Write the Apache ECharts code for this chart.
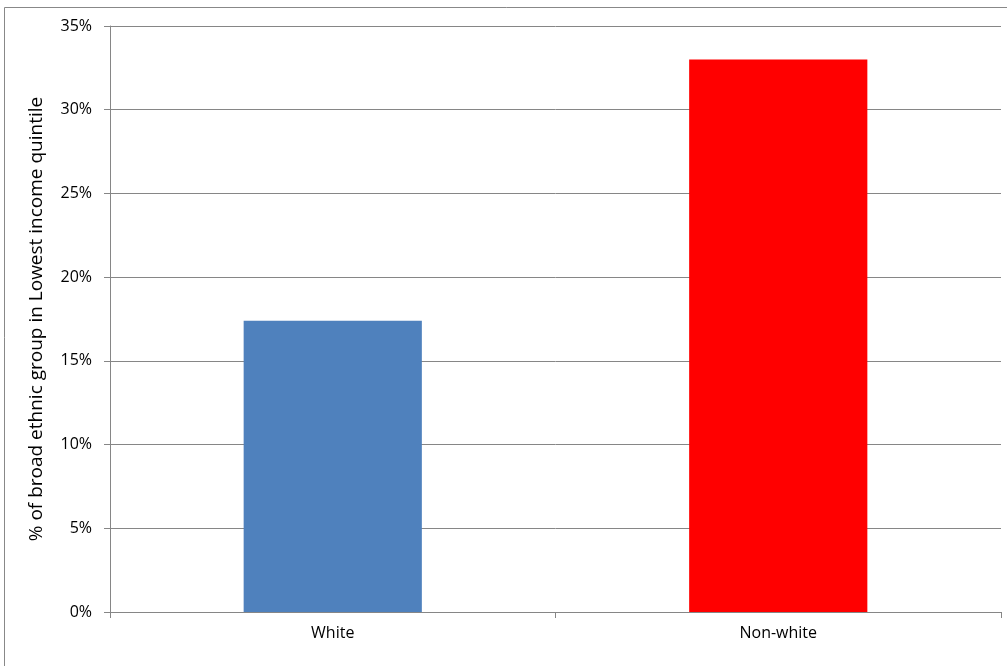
<!DOCTYPE html>
<html><head><meta charset="utf-8">
<script src="https://cdn.jsdelivr.net/npm/echarts@6/dist/echarts.min.js"></script>
<style>html,body{margin:0;padding:0;background:#fff}#c{width:1007px;height:666px}</style>
</head><body><div id="c"></div>
<script>
const categories = ['White', 'Non-white'];
const values = [0.174, 0.330];
const barColors = ['#4F81BD', '#FF0000'];
const yTicks = [0, 0.05, 0.10, 0.15, 0.20, 0.25, 0.30, 0.35];
const yTitle = '% of broad ethnic group in Lowest income quintile';

const chart = echarts.init(document.getElementById('c'), null, {renderer: 'canvas'});
const font = '"Open Sans", Lato, sans-serif';
chart.setOption({
  animation: false,
  backgroundColor: '#fff',
  graphic: [{type: 'rect', shape: {x: 4.5, y: 7.5, width: 1010, height: 700}, style: {fill: 'none', stroke: '#888', lineWidth: 1}, silent: true}],
  grid: {left: 110, top: 26, right: 6, bottom: 54, containLabel: false},
  xAxis: {
    type: 'category', data: categories,
    axisLine: {lineStyle: {color: '#868686', width: 1}},
    axisTick: {show: true, alignWithLabel: false, length: 6, lineStyle: {color: '#868686'}},
    axisLabel: {color: '#000', fontFamily: font, fontSize: 16, margin: 13}
  },
  yAxis: {
    type: 'value', min: yTicks[0], max: yTicks[yTicks.length - 1], interval: 0.05,
    name: yTitle, nameLocation: 'middle', nameGap: 64,
    nameTextStyle: {color: '#000', fontFamily: font, fontSize: 19},
    axisLine: {show: true, lineStyle: {color: '#868686'}},
    axisTick: {show: true, length: 6, lineStyle: {color: '#868686'}},
    axisLabel: {color: '#000', fontFamily: font, fontSize: 16, margin: 18,
      formatter: v => Math.round(v * 100) + '%'},
    splitLine: {lineStyle: {color: '#868686', width: 1}}
  },
  series: [{
    type: 'bar', barWidth: '40%',
    data: values.map((v, i) => ({value: v, itemStyle: {color: barColors[i]}}))
  }]
});
</script></body></html>
